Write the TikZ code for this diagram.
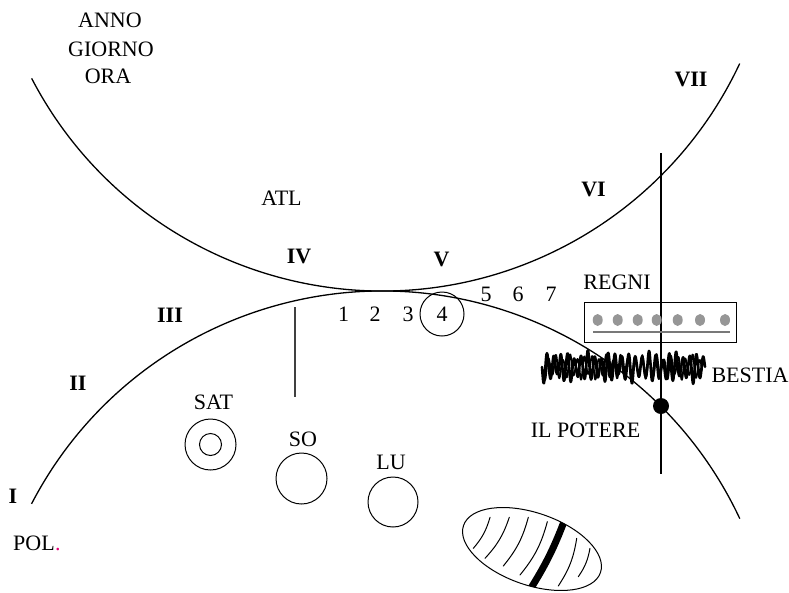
\documentclass[tikz,border=0pt]{standalone}
\usepackage{fontspec}
\setmainfont{Liberation Serif}
\definecolor{dotgray}{RGB}{150,150,150}
\definecolor{polred}{RGB}{230,0,120}
\begin{document}
\begin{tikzpicture}[x=1pt,y=-1pt,
  lbl/.style={font=\fontsize{22}{28}\selectfont, inner sep=0pt},
  numeral/.style={lbl, font=\fontsize{22}{28}\selectfont\bfseries},
  orbit/.style={line width=1.3pt},
  body/.style={circle, draw, line width=1pt, inner sep=0pt},
  hatch/.style={line width=1pt, line cap=round},
  scribble/.style={line width=2.6pt, line join=round, line cap=round},
]
\useasboundingbox (0,0) rectangle (789,592);

% the two great arcs touching in the middle
\draw[orbit] (382,-104) ++(152.5:395) coordinate (upL)
  arc[start angle=152.5, end angle=25.1, radius=395] coordinate (upR);
\draw[orbit] (382,686) ++(207.47:395) coordinate (loL)
  arc[start angle=207.47, end angle=334.93, radius=395] coordinate (loR);

% vertical axes
\coordinate (axTop) at (661,153);
\coordinate (axBot) at (661,474);
\draw[line width=1.3pt] (axTop) -- (axBot);
\coordinate (stemTop) at (295,307);
\coordinate (stemBot) at (295,397);
\draw[line width=1.3pt, black!75] (stemTop) -- (stemBot);

% headings
\node[lbl] (anno) at (110,20) {ANNO};
\node[lbl] (giorno) at (111,49) {GIORNO};
\node[lbl] (ora) at (108,76) {ORA};
\node[lbl] (atl) at (281.5,198.5) {ATL};

% roman numerals
\node[numeral] (nI) at (13,496.5) {I};
\node[numeral] (nII) at (78,383.5) {II};
\node[numeral] (nIII) at (170,315.5) {III};
\node[numeral] (nIV) at (299,256.5) {IV};
\node[numeral] (nV) at (441.5,259) {V};
\node[numeral] (nVI) at (593.5,189.5) {VI};
\node[numeral] (nVII) at (691,79.5) {VII};

% counting row
\node[lbl] (d1) at (343.5,314.5) {1};
\node[lbl] (d2) at (375,314.5) {2};
\node[lbl] (d3) at (408,314.5) {3};
\node[lbl] (d4) at (442,314) {4};
\node[body, minimum size=44pt] (ring4) at (442,314) {};
\node[lbl] (d5) at (486,294.5) {5};
\node[lbl] (d6) at (518,294.5) {6};
\node[lbl] (d7) at (551,294.5) {7};

% REGNI box
\node[lbl] (regni) at (617,282) {REGNI};
\node[draw, line width=1pt, minimum width=152pt, minimum height=40pt, inner sep=0pt] (regniBox) at (660.5,322.5) {};
\foreach \px in {597.7,617.7,637.7,656.7,677.7,700,725}
  \fill[dotgray] (\px,320) ellipse [x radius=5, y radius=6];
\coordinate (barL) at (593,332);
\coordinate (barR) at (730,332);
\draw[dotgray!80!black, line width=1.5pt] (barL) -- (barR);

% the beast scribble (parameter t runs along the band from its left end)
\draw[scribble] plot[domain=0:163, samples=330]
  ({542+\x}, {367 + (12+3*sin(17*\x+30)+2*sin(41*\x))*sin(53*\x)});
\draw[scribble, line width=1.8pt] plot[domain=0:158, samples=300]
  ({544+\x}, {367 + (10+3*sin(29*\x+70))*sin(50*\x+40)});
\node[lbl] (bestia) at (750,375) {BESTIA};

% power
\node[circle, fill, minimum size=16pt, inner sep=0pt] (potereDot) at (661,406) {};
\node[lbl] (potere) at (585.5,430.5) {IL POTERE};

% planets
\node[lbl] (sat) at (213.5,402.5) {SAT};
\node[body, minimum size=51pt] (satOut) at (210.5,444.5) {};
\node[body, minimum size=22pt] (satIn) at (210.5,444.5) {};
\node[lbl] (so) at (303,439.5) {SO};
\node[body, minimum size=51pt] (soBody) at (301.5,478.5) {};
\node[lbl] (lu) at (391,462.5) {LU};
\node[body, minimum size=50pt] (luBody) at (393,502) {};

% POL.
\node[lbl, anchor=west] (pol) at (13,543.5) {POL};
\node[lbl, anchor=base west, text=polred] (polDot) at (pol.base east) {.};

% striped ellipse
\begin{scope}[shift={(532,549)}, rotate=-19]
  \begin{scope}
    \clip (0,0) ellipse [x radius=72.4, y radius=36.1];
    \draw[line width=7pt] (21.5,-42) to[bend left=6] (10.2,44);
  \end{scope}
  \draw[line width=1pt] (0,0) ellipse [x radius=72.4, y radius=36.1];
  \draw[hatch] (-50,-16.3) to[bend left=12] (-55.7,18.5);
  \draw[hatch] (-31.8,-22.6) to[bend left=12] (-41.4,24.1);
  \draw[hatch] (-13.8,-28.8) to[bend left=12] (-21.6,25.4);
  \draw[hatch] (5.6,-30.8) to[bend left=12] (-2.9,28.5);
  \draw[hatch] (38.8,-24.7) to[bend left=12] (36.9,26.4);
  \draw[hatch] (54.6,-19.5) to[bend left=12] (52.8,11.1);
\end{scope}
\end{tikzpicture}
\end{document}
